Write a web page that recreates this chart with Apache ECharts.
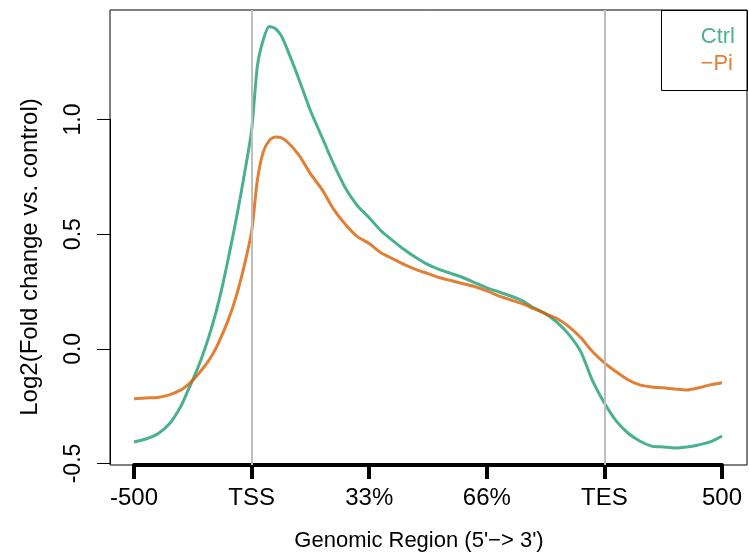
<!DOCTYPE html>
<html>
<head>
<meta charset="utf-8">
<script src="https://cdn.jsdelivr.net/npm/echarts@6/dist/echarts.min.js"></script>
<style>
  html, body { margin: 0; padding: 0; background: #fff; }
  #chart { width: 749px; height: 559px; }
</style>
</head>
<body>
<div id="chart"></div>
<script>
// positions along the meta-gene, 0 = -500bp, 20 = TSS, 80 = TES, 100 = +500bp
const positions = [0, 2, 4, 6, 8, 9, 10, 11, 12, 13, 14, 15, 16, 17, 18, 19, 20, 21, 22, 23, 24, 25, 26,
  28, 30, 32, 34, 36, 38, 40, 42, 44, 46, 48, 50, 52, 54, 56, 58, 60, 62, 64, 66,
  68, 70, 72, 74, 76, 78, 80, 82, 84, 86, 88, 90, 92, 94, 96, 98, 100];

const ctrl = [-0.406, -0.393, -0.371, -0.328, -0.249, -0.192, -0.135, -0.074, -0.004, 0.075,
  0.165, 0.270, 0.390, 0.515, 0.650, 0.795,
  0.952, 1.236, 1.349, 1.406, 1.397, 1.367, 1.310,
  1.179, 1.039, 0.921, 0.803, 0.699, 0.624, 0.572, 0.515, 0.472, 0.432, 0.397, 0.367,
  0.345, 0.328, 0.310, 0.288, 0.266, 0.249, 0.231, 0.210, 0.179, 0.153, 0.114, 0.061,
  -0.013, -0.140, -0.236, -0.314, -0.367, -0.402, -0.424, -0.428, -0.432, -0.428,
  -0.419, -0.406, -0.380];

const minusPi = [-0.218, -0.214, -0.212, -0.201, -0.179, -0.160, -0.137, -0.108, -0.076, -0.040,
  0.006, 0.062, 0.124, 0.197, 0.285, 0.390,
  0.511, 0.738, 0.860, 0.908, 0.924, 0.921, 0.904,
  0.847, 0.764, 0.694, 0.607, 0.541, 0.489, 0.459, 0.419, 0.393, 0.367, 0.345, 0.328,
  0.310, 0.297, 0.284, 0.271, 0.253, 0.231, 0.214, 0.197, 0.175, 0.153, 0.131, 0.096,
  0.048, -0.013, -0.061, -0.100, -0.135, -0.157, -0.166, -0.170, -0.175, -0.179,
  -0.170, -0.157, -0.148];

const xTickLabels = ['-500', 'TSS', '33%', '66%', 'TES', '500'];
const markers = [20, 80];

const font = 'Liberation Sans, Arial, sans-serif';
const green = '#1B9E77';
const orange = '#D95F02';

const chart = echarts.init(document.getElementById('chart'), null, { renderer: 'canvas' });

const option = {
    animation: false,
    textStyle: { fontFamily: font },
    grid: [
        // plotting box
        { left: 110, top: 10, right: 2, bottom: 94, show: true, borderColor: '#000', borderWidth: 1 },
        // bottom axis, -500 .. 500
        { left: 134, right: 27, top: 464, height: 1 },
        // left axis, -0.5 .. 1.0
        { left: 110, right: 2, top: 119.5, bottom: 95.5 }
    ],
    xAxis: [
        { gridIndex: 0, type: 'value', min: -4.08, max: 104.25, show: false },
        {
            gridIndex: 1, type: 'value', min: 0, max: 100, interval: 20,
            axisLine: { onZero: false, lineStyle: { color: '#000', width: 4 } },
            axisTick: { length: 14, lineStyle: { color: '#000', width: 4 } },
            splitLine: { show: false },
            axisLabel: {
                formatter: v => xTickLabels[Math.round(v / 20)],
                fontSize: 24, color: '#000', margin: 21, fontFamily: font
            }
        },
        { gridIndex: 2, type: 'value', min: 0, max: 1, show: false }
    ],
    yAxis: [
        { gridIndex: 0, type: 'value', min: -0.5065, max: 1.4775, show: false },
        { gridIndex: 1, type: 'value', show: false },
        {
            gridIndex: 2, type: 'value', min: -0.5, max: 1.0, interval: 0.5,
            axisLine: { show: true, lineStyle: { color: '#000', width: 1 } },
            axisTick: { show: true, length: 13, lineStyle: { color: '#000', width: 1 } },
            axisLabel: {
                rotate: 90, fontSize: 23, margin: 25, color: '#000',
                fontFamily: font, formatter: v => v.toFixed(1)
            },
            splitLine: { show: false }
        }
    ],
    legend: [
        {
            data: ['Ctrl'], right: 14, top: 26, padding: 0, icon: 'none', itemWidth: 0, itemHeight: 0,
            selectedMode: false, textStyle: { color: '#49B192', fontSize: 22, fontFamily: font }
        },
        {
            data: ['\u2212Pi'], right: 16, top: 53, padding: 0, icon: 'none', itemWidth: 0, itemHeight: 0,
            selectedMode: false, textStyle: { color: '#E17F35', fontSize: 22, fontFamily: font }
        }
    ],
    graphic: [
        {
            type: 'rect', shape: { x: 661.5, y: 10.5, width: 86, height: 80 },
            style: { fill: 'none', stroke: '#000', lineWidth: 1 }, silent: true
        },
        {
            type: 'text', x: 419, y: 541,
            style: { text: "Genomic Region (5'\u2212> 3')", font: '22px ' + font, fill: '#000', textAlign: 'center', textVerticalAlign: 'middle' }
        },
        {
            type: 'text', x: 30, y: 257, rotation: Math.PI / 2,
            style: { text: 'Log2(Fold change vs. control)', font: '24px ' + font, fill: '#000', textAlign: 'center', textVerticalAlign: 'middle' }
        }
    ],
    series: [
        {
            name: 'Ctrl', type: 'line', xAxisIndex: 0, yAxisIndex: 0,
            showSymbol: false, smooth: 0.25,
            lineStyle: { color: green, width: 3, opacity: 0.8 },
            itemStyle: { color: green },
            data: positions.map((p, i) => [p, ctrl[i]]),
            markLine: {
                silent: true, symbol: ['none', 'none'], label: { show: false },
                lineStyle: { color: '#bebebe', width: 2, type: 'solid' },
                data: markers.map(m => ({ xAxis: m }))
            }
        },
        {
            name: '\u2212Pi', type: 'line', xAxisIndex: 0, yAxisIndex: 0,
            showSymbol: false, smooth: 0.25,
            lineStyle: { color: orange, width: 3, opacity: 0.8 },
            itemStyle: { color: orange },
            data: positions.map((p, i) => [p, minusPi[i]])
        }
    ]
};

chart.setOption(option);
</script>
</body>
</html>
